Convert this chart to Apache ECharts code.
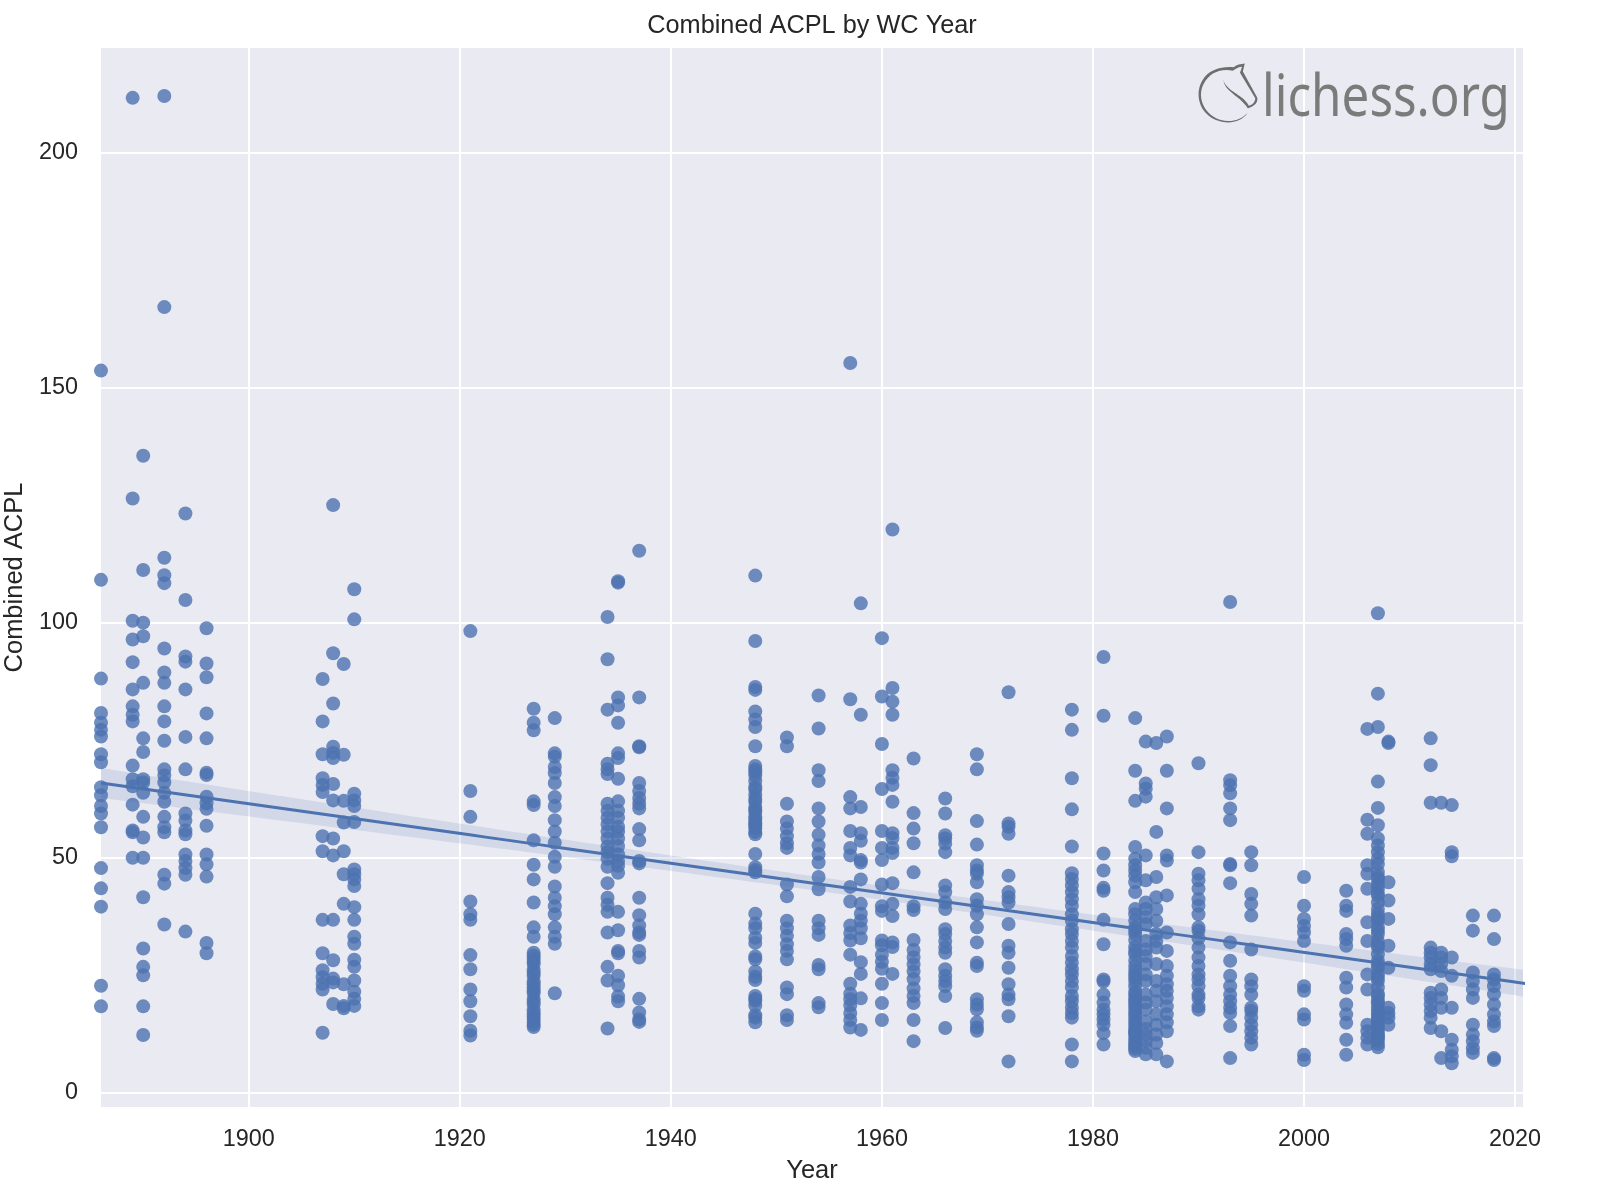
<!DOCTYPE html>
<html>
<head>
<meta charset="utf-8">
<script src="https://cdn.jsdelivr.net/npm/echarts@6/dist/echarts.min.js"></script>
<style>
  html, body { margin: 0; padding: 0; background: #ffffff; }
  #chart { width: 1598px; height: 1202px; }
</style>
</head>
<body>
<div id="chart"></div>
<script>
// ---- Data ----
const chartTitle = 'Combined ACPL by WC Year';
const xTickLabels = [1900, 1920, 1940, 1960, 1980, 2000, 2020];
const yTickLabels = [0, 50, 100, 150, 200];

const matchYears = [1886, 1889, 1890, 1892, 1894, 1896, 1907, 1908, 1909, 1910, 1921, 1927, 1929, 1934, 1935, 1937,
  1948, 1951, 1954, 1957, 1958, 1960, 1961, 1963, 1966, 1969, 1972, 1978, 1981, 1984, 1985, 1986, 1987, 1990,
  1993, 1995, 2000, 2004, 2006, 2007, 2008, 2012, 2013, 2014, 2016, 2018, 2021];

const acplByYear = [
  [153.6, 109.1, 88.1, 80.8, 78.7, 77.2, 75.8, 72, 70.3, 65, 63.3, 61, 59.4, 56.5, 47.8, 43.5, 39.6, 22.8, 18.4],
  [211.6, 126.4, 100.4, 96.4, 91.6, 85.8, 82.2, 80.4, 79, 69.6, 66.7, 65.2, 61.3, 55.8, 55.4, 50],
  [135.5, 111.2, 100, 97.1, 87.2, 75.4, 72.5, 66.7, 66, 63.8, 58.7, 54.3, 50, 41.6, 30.7, 26.8, 25, 18.4, 12.3],
  [212, 167.1, 113.8, 110.1, 108.4, 94.5, 89.4, 87.2, 82.2, 79, 74.9, 68.8, 67.5, 66, 63.8, 61.9, 58.7, 56.5, 55.4, 46.4, 44.5, 35.8],
  [123.2, 104.8, 92.8, 91.7, 85.8, 75.7, 68.8, 59.4, 57.9, 55.8, 55, 50.7, 49.3, 47.8, 46.4, 34.3],
  [98.8, 91.3, 88.4, 80.7, 75.4, 68.1, 67.6, 63, 61.6, 60.4, 56.8, 50.7, 48.6, 46, 31.9, 29.7],
  [88, 79, 72, 66.9, 65.5, 64, 54.6, 51.4, 36.8, 29.7, 26.1, 24.6, 23.2, 22, 12.8],
  [125, 93.5, 82.8, 73.6, 72.3, 71.2, 65.7, 62.2, 54.1, 50.5, 36.8, 28.2, 24.3, 23.5, 18.9],
  [91.2, 71.9, 62.1, 57.5, 51.4, 46.5, 40.2, 23.1, 18.5, 18],
  [107.1, 100.7, 63.6, 62.2, 61, 57.6, 47.5, 46.5, 45.4, 44, 39.5, 36.8, 33.2, 31.7, 28.3, 26.8, 23.9, 21.5, 20, 18.5],
  [98.2, 64.2, 58.7, 40.7, 38, 36.8, 29.3, 26.3, 22, 19.5, 16.3, 13.2, 12.2],
  [81.7, 78.7, 77.1, 62, 61.2, 53.7, 48.5, 45.4, 40.5, 35.2, 33.2, 29.8, 28.6, 27.4, 26.1, 24.9, 23.7, 22.4, 21.2, 20, 18.8, 17.6, 16.3, 15.1, 14,
   29.2, 27.9, 25.5, 23.1, 21.8, 19.4, 17, 15.7, 14.5],
  [79.7, 72.2, 71.5, 69.3, 68, 65.9, 62.9, 61, 58, 55.6, 53.2, 50.2, 48.1, 43.9, 41.5, 39.7, 38, 35.2, 33.2, 31.7, 21.2],
  [101.2, 92.2, 81.5, 70, 68.8, 67.8, 61.5, 60, 58.5, 57.1, 55.6, 54.1, 52.4, 51.2, 49.8, 48.1, 44.6, 41.5, 40, 38.5, 34.1, 26.8, 23.9, 13.7],
  [108.8, 108.5, 84.1, 82.4, 78.7, 72.2, 71.2, 66.8, 62, 60, 58.5, 56.6, 55.6, 54.1, 52.5, 50.7, 49.3, 48.3, 46.8, 38.5, 34.6, 30.2, 29.7, 24.9, 22.9, 20.5, 19.5],
  [115.3, 84.1, 73.7, 73.5, 65.9, 64.2, 62.7, 61.5, 60.5, 56.1, 53.7, 49.3, 48.8, 41.5, 37.8, 35.6, 34.1, 33.6, 30.2, 28.8, 20, 17.1, 15.6, 15.1],
  [110, 96.1, 86.3, 85.7, 81.1, 79.4, 77.8, 73.7, 68.8, 67.5, 66.3, 65, 63.4, 61.9, 60.8, 59.8, 58.2, 57.2, 56.2, 55, 50.8, 47.4, 46.9, 38.1, 35, 31.9, 28.4, 25.8, 24.7, 20.6, 19.6, 18.6, 16, 15,
   69.5, 68.2, 64.5, 62.5, 60.2, 58.8, 57.5, 56.8, 55.5, 48, 36, 33, 29, 24, 20, 16.5],
  [75.6, 73.7, 61.5, 57.7, 56.2, 54.6, 53.1, 52.1, 44.3, 41.8, 36.6, 35, 33.4, 31.6, 30.2, 28.4, 22.4, 21, 16.5, 15.5],
  [84.5, 77.5, 68.6, 66.3, 60.5, 57.7, 54.9, 52.6, 50.8, 49, 45.9, 43.3, 36.6, 35, 33.6, 27.2, 26.3, 19.1, 18.2],
  [155.2, 83.7, 62.9, 60.5, 55.7, 52.1, 50.5, 43.8, 40.7, 35.6, 34, 32.4, 29.4, 23.2, 21.1, 19.9, 18.6, 17, 15.5, 13.9],
  [104.1, 80.4, 60.8, 55.2, 53.6, 49.5, 49, 45.4, 40.2, 38.1, 36.6, 35, 32.9, 27.8, 25.3, 20.1, 13.4],
  [96.7, 84.3, 74.2, 64.6, 55.7, 52.1, 49.5, 44.3, 39.7, 38.7, 32.4, 31.4, 29.4, 27.9, 26.4, 23.2, 19.1, 15.5],
  [119.8, 86.1, 83.2, 80.4, 68.6, 67, 65.5, 61.9, 55.2, 54.2, 52.1, 51, 44.6, 40.2, 37.6, 32, 31, 25.3],
  [71.1, 59.5, 56.2, 53.1, 46.9, 39.7, 38.9, 32.5, 30.4, 28.8, 27.3, 25.8, 24.2, 22.2, 20.6, 19.1, 15.5, 11],
  [62.6, 59.4, 54.8, 54.1, 53, 51.2, 44.1, 42.7, 40.5, 39.1, 34.8, 33.8, 32.3, 30.9, 29.8, 26.3, 24.9, 23.8, 22.7, 20.6, 13.8],
  [72, 68.8, 57.8, 52.8, 48.4, 47.3, 46.6, 44.8, 41.2, 39.8, 38, 35.2, 32, 27.7, 27, 19.9, 18.8, 17.8, 15, 13.9, 13.2],
  [85.2, 57.3, 56.6, 55.1, 46.2, 42.7, 41.6, 40.5, 35.9, 31.3, 29.8, 26.6, 23.1, 20.9, 19.9, 16.3, 6.7],
  [81.5, 77.2, 66.9, 60.3, 52.4, 46.7, 45.5, 44.1, 42.7, 41.2, 39.8, 38, 36.6, 34.8, 33.8, 32.3, 30.9, 29.1, 27.7, 26.3, 25.2, 23.8, 22.4, 20.6, 19.5, 18.1, 17, 16, 10.3, 6.7],
  [92.7, 80.2, 50.9, 47.3, 43.6, 43, 36.8, 31.6, 24.1, 23.7, 20.9, 19.2, 17.7, 16.7, 15.6, 14.5, 12.7, 10.3],
  [79.7, 68.5, 62.1, 52.3, 49.8, 48.4, 47.3, 46.2, 44.8, 42.7, 39.1, 38, 36.6, 35.2, 33.8, 31, 29.5, 28.1, 25.2, 23.8, 22.7, 20.9, 19.5, 18.1, 16.7, 15.2, 13.8, 12.4, 11, 9.9, 8.9,
   34.5, 32.5, 30.2, 27, 26, 24.5, 21.5, 20.2, 18.8, 17.4, 16, 14.5, 13.1, 11.7, 10.4, 9.4, 12.8],
  [74.7, 65.8, 64.7, 63, 50.5, 45.2, 40.5, 39.1, 37.4, 35.9, 32.3, 30.5, 29.1, 27.4, 25.2, 23.8, 20.9, 19.2, 17.7, 15.2, 13.6, 12.4, 11, 9.6, 8.2],
  [74.4, 55.5, 45.9, 41.6, 39.1, 36.6, 33.8, 32.3, 30.9, 27.4, 23.8, 21.7, 19.5, 16.7, 14.5, 12.4, 10.6, 8.2],
  [75.8, 68.5, 60.5, 50.5, 49.4, 42, 34.1, 30.2, 27, 24.9, 23.1, 21.7, 20.2, 18.4, 16.7, 15, 13.1, 6.7],
  [70.1, 51.2, 46.6, 45.2, 43.4, 41.2, 39.8, 38, 35.2, 34.5, 32.9, 30.9, 28.8, 27, 25.2, 24.1, 22.7, 20.9, 20.2, 18.4, 17.7],
  [104.4, 66.5, 65.4, 63.7, 60.5, 58, 48.7, 48.4, 44.6, 32, 28.1, 24.9, 22.7, 20.9, 19.5, 18.1, 17, 14.2, 7.4],
  [51.2, 48.4, 42.3, 40.2, 37.7, 30.5, 24.1, 22.7, 20.9, 18.1, 17.4, 16, 14.5, 13.1, 11.7, 10.3],
  [45.9, 39.8, 37, 35.5, 34.1, 32.3, 22.7, 21.7, 16.7, 15.6, 8.1, 7],
  [43, 39.8, 38.7, 33.8, 32.7, 31.3, 24.5, 22.4, 18.8, 16.7, 14.9, 11.3, 8.1],
  [77.4, 58.1, 55.1, 48.4, 46.6, 43.4, 36.3, 32.3, 25.2, 22, 14.5, 13.1, 11.7, 10.3],
  [102, 84.9, 77.8, 66.2, 60.6, 56.9, 54.1, 52.6, 51.2, 49.8, 48.7, 45.5, 44.4, 43.4, 41.9, 40.5, 39.1, 38, 36.6, 35.2, 33.8, 32.3, 30.9, 29.5, 28.1, 26.6, 25.2, 23.8, 22.4, 21, 19.5, 18.1, 16.7, 15.3, 13.9, 12.5, 11.1, 9.7,
   47, 46, 42.5, 37.3, 34.5, 31.5, 27.3, 24.5, 20.5, 17.4, 16, 14.6, 13.2, 11.8, 10.4, 15.5, 12, 19],
  [74.7, 74.4, 44.8, 40.9, 37, 31.3, 26.6, 18.1, 17, 16, 14.5],
  [75.4, 69.7, 61.7, 30.9, 29.8, 28.8, 27.4, 26.3, 21.3, 20.2, 18.8, 17.4, 16, 13.8],
  [61.7, 29.8, 28.8, 27.4, 25.9, 22, 20.2, 18.1, 13.1, 7.4],
  [61.2, 51.2, 50.3, 28.8, 24.9, 18.1, 11.3, 9.2, 7.8, 6.3],
  [37.7, 34.5, 25.6, 23.8, 22, 20.2, 14.5, 12.4, 11, 9.5, 8.5],
  [37.7, 32.7, 25.2, 24.1, 22.7, 21, 18.8, 16.7, 15.2, 14.2, 7.4, 7],
  [19.2, 15, 6.3]
];

// ---- Build points ----
const points = [];
matchYears.forEach((yr, i) => acplByYear[i].forEach(v => points.push([yr, v])));

// ---- Ordinary least squares fit with 95% confidence band ----
const n = points.length;
const xbar = points.reduce((s, p) => s + p[0], 0) / n;
const ybar = points.reduce((s, p) => s + p[1], 0) / n;
let sxx = 0, sxy = 0;
points.forEach(p => { sxx += (p[0] - xbar) ** 2; sxy += (p[0] - xbar) * (p[1] - ybar); });
const slope = sxy / sxx;
const intercept = ybar - slope * xbar;
let sse = 0;
points.forEach(p => { sse += (p[1] - (intercept + slope * p[0])) ** 2; });
const sRes = Math.sqrt(sse / (n - 2));
const xMinData = Math.min(...matchYears), xMaxData = Math.max(...matchYears);
const gridXs = [];
for (let k = 0; k <= 100; k++) gridXs.push(xMinData + (xMaxData - xMinData) * k / 100);
const fitLine = gridXs.map(x => [x, intercept + slope * x]);
const bandUpper = gridXs.map(x => intercept + slope * x + 1.96 * sRes * Math.sqrt(1 / n + (x - xbar) ** 2 / sxx));
const bandLower = gridXs.map(x => intercept + slope * x - 1.96 * sRes * Math.sqrt(1 / n + (x - xbar) ** 2 / sxx));

// ---- Chart ----
const BLUE = '#4C72B0';
const TXT = '#262626';
const FONT = '"Liberation Sans", Arial, sans-serif';
const chart = echarts.init(document.getElementById('chart'), null, { renderer: 'canvas' });

const lichessPath = 'M38.956.5c-3.53.418-6.452.902-9.286 2.984C5.534 1.786-.692 18.533.68 29.364 3.493 50.214 31.918 55.785 41.329 41.7c-7.444 7.696-19.276 8.752-28.323 3.084C3.959 39.116-.506 27.392 4.683 17.567 9.873 7.742 18.996 4.535 29.03 6.405c2.43-1.418 5.225-3.22 7.655-3.187l-1.694 4.86 12.752 21.37c-.439 5.654-5.459 6.112-5.459 6.112-.574-1.47-1.634-2.942-4.842-6.036-3.207-3.094-17.465-10.177-15.788-16.207-2.001 6.967 10.311 14.152 14.04 17.663 3.730 3.51 5.426 6.04 5.795 6.756 0 0 9.392-2.504 7.838-8.927L37.4 7.171z';
const logoSvg = 'data:image/svg+xml;charset=utf-8,' + encodeURIComponent(
  '<svg xmlns="http://www.w3.org/2000/svg" viewBox="0 0 50 50" width="120" height="120"><path fill="#6e6e6e" d="' + lichessPath + '"/></svg>');

chart.setOption({
  animation: false,
  backgroundColor: '#ffffff',
  textStyle: { fontFamily: FONT },
  grid: { left: 101, top: 48, width: 1422, height: 1059, show: true, backgroundColor: '#EAEAF2', borderWidth: 0,
          containLabel: false, outerBoundsMode: 'none' },
  xAxis: {
    type: 'value', min: 1886, max: 2020.75,
    name: 'Year', nameLocation: 'middle', nameGap: 51,
    nameTextStyle: { color: TXT, fontSize: 25.5, fontFamily: FONT },
    axisLine: { show: false },
    axisTick: { show: false, customValues: xTickLabels },
    axisLabel: { customValues: xTickLabels, formatter: v => String(v), color: TXT, fontSize: 23.4, fontFamily: FONT, margin: 21 },
    splitLine: { show: true, lineStyle: { color: '#ffffff', width: 2 } }
  },
  yAxis: {
    type: 'value', min: -3, max: 222.2,
    name: 'Combined ACPL', nameLocation: 'middle', nameGap: 65,
    nameTextStyle: { color: TXT, fontSize: 25.5, fontFamily: FONT },
    axisLine: { show: false },
    axisTick: { show: false, customValues: yTickLabels },
    axisLabel: { customValues: yTickLabels, formatter: v => String(v), color: TXT, fontSize: 23.4, fontFamily: FONT, margin: 23, padding: [8, 0, 0, 0] },
    splitLine: { show: true, lineStyle: { color: '#ffffff', width: 2 } }
  },
  graphic: [
    { type: 'text', x: 812, y: 26, z: 10,
      style: { text: chartTitle, fill: TXT, font: '25.3px ' + FONT, textAlign: 'center', textVerticalAlign: 'middle' } },
    { type: 'image', x: 1198, y: 63, z: 10, silent: true,
      style: { image: logoSvg, width: 60, height: 60 } },
    { type: 'text', x: 1262, y: 70, scaleX: 0.85, z: 10, silent: true,
      style: { text: 'lichess.org', fill: '#7b7b7b', font: '58px "Noto Sans", "Open Sans", sans-serif', textVerticalAlign: 'top' } }
  ],
  series: [
    {
      type: 'scatter', data: points, symbol: 'circle', symbolSize: 14,
      itemStyle: { color: BLUE, opacity: 0.8 }, z: 2, silent: true
    },
    {
      type: 'custom', z: 3, silent: true, clip: true,
      data: [[gridXs[0], bandLower[0]]],
      renderItem: function (params, api) {
        const up = gridXs.map((x, i) => api.coord([x, bandUpper[i]]));
        const lo = gridXs.map((x, i) => api.coord([x, bandLower[i]])).reverse();
        return { type: 'polygon', shape: { points: up.concat(lo) }, style: { fill: 'rgba(76,114,176,0.15)' } };
      }
    },
    {
      type: 'line', data: fitLine, showSymbol: false, symbol: 'none', clip: true, z: 4, silent: true,
      lineStyle: { color: BLUE, width: 3 }
    }
  ]
});
</script>
</body>
</html>
